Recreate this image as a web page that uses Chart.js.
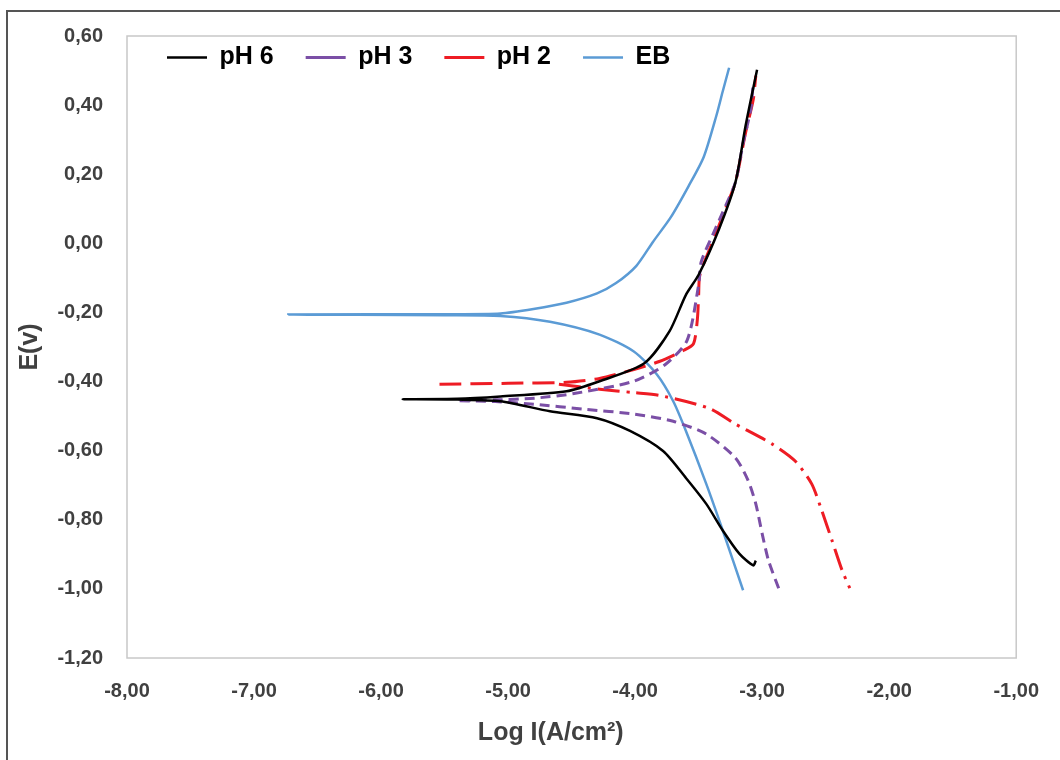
<!DOCTYPE html>
<html>
<head>
<meta charset="utf-8">
<script src="https://cdn.jsdelivr.net/npm/chart.js@4.4.1/dist/chart.umd.min.js"></script>
<style>
  html, body { margin: 0; padding: 0; background: #fff; }
  #wrap { width: 1060px; height: 760px; }
</style>
</head>
<body>
<div id="wrap"><canvas id="myCanvas" width="1060" height="760"></canvas></div>
<script>
// axis ticks
const xTicks = [-8, -7, -6, -5, -4, -3, -2, -1];
const yTicks = [-1.2, -1.0, -0.8, -0.6, -0.4, -0.2, 0.0, 0.2, 0.4, 0.6];

// pH 6 : cathodic end -> corrosion potential -> anodic end
const ph6LogI = [-3.05, -3.07, -3.18, -3.31, -3.44, -3.60, -3.78, -4.04, -4.30, -4.67, -5.06, -5.40, -5.83,
  -5.40, -5.06, -4.54, -4.28, -3.93, -3.73, -3.60, -3.50, -3.34, -3.21, -3.13, -3.04];
const ph6E = [-0.918, -0.932, -0.898, -0.831, -0.754, -0.679, -0.601, -0.543, -0.506, -0.486, -0.457, -0.452, -0.451,
  -0.450, -0.443, -0.428, -0.399, -0.348, -0.255, -0.149, -0.091, 0.041, 0.177, 0.341, 0.502];

// pH 3
const ph3LogI = [-2.87, -2.95, -3.00, -3.05, -3.11, -3.21, -3.44, -3.70, -4.01, -4.40, -4.79, -5.10, -5.40,
  -5.10, -4.79, -4.47, -4.01, -3.76, -3.59, -3.50, -3.48, -3.39, -3.31, -3.21, -3.15, -3.09, -3.07];
const ph3E = [-0.998, -0.918, -0.840, -0.754, -0.687, -0.621, -0.552, -0.515, -0.494, -0.480, -0.466, -0.458, -0.455,
  -0.453, -0.448, -0.434, -0.399, -0.350, -0.280, -0.120, -0.054, 0.024, 0.090, 0.177, 0.290, 0.387, 0.465];

// pH 2, anodic branch (long dashes) and cathodic branch (dash-dot)
const ph2AnLogI = [-5.54, -5.00, -4.54, -4.28, -4.01, -3.81, -3.62, -3.54, -3.51, -3.50, -3.49, -3.39, -3.29, -3.21, -3.13, -3.07, -3.05];
const ph2AnE = [-0.408, -0.405, -0.402, -0.391, -0.365, -0.342, -0.310, -0.290, -0.220, -0.150, -0.091, 0.004, 0.099, 0.177, 0.321, 0.416, 0.485];
const ph2CaLogI = [-4.60, -4.28, -4.01, -3.81, -3.42, -3.21, -2.92, -2.74, -2.61, -2.53, -2.45, -2.37, -2.31];
const ph2CaE = [-0.408, -0.422, -0.432, -0.440, -0.477, -0.523, -0.581, -0.630, -0.696, -0.774, -0.860, -0.947, -0.998];

// EB
const ebLogI = [-3.15, -3.31, -3.44, -3.60, -3.70, -3.83, -4.01, -4.28, -4.67, -5.06, -5.50, -6.73,
  -5.50, -5.06, -4.80, -4.54, -4.30, -4.15, -3.99, -3.86, -3.72, -3.58, -3.46, -3.36, -3.31, -3.26];
const ebE = [-1.004, -0.831, -0.696, -0.543, -0.457, -0.379, -0.313, -0.264, -0.227, -0.210, -0.208, -0.206,
  -0.205, -0.203, -0.190, -0.172, -0.145, -0.115, -0.065, 0.004, 0.075, 0.165, 0.250, 0.370, 0.440, 0.508];

function pts(xs, ys) {
  return xs.map((x, i) => ({ x: x, y: ys[i] }));
}

function fmt(v) {
  if (Math.abs(v) < 1e-9) v = 0;
  return v.toFixed(2).replace('.', ',');
}

const frame = {
  id: 'frame',
  afterInit(chart) {
    // lay the in-plot legend out in one row
    if (chart.legend) chart.legend.isHorizontal = () => true;
  },
  afterLayout(chart) {
    if (chart.legend) {
      chart.legend.left = chart.chartArea.left + 8;
      chart.legend.top = 13;
    }
  },
  beforeDraw(chart) {
    const ctx = chart.ctx;
    ctx.save();
    ctx.fillStyle = '#fff';
    ctx.fillRect(0, 0, chart.width, chart.height);
    ctx.strokeStyle = '#555';
    ctx.lineWidth = 2;
    ctx.strokeRect(7, 11, chart.width + 20, chart.height + 20);
    ctx.restore();
  },
  afterDatasetsDraw(chart) {
    const a = chart.chartArea;
    const ctx = chart.ctx;
    ctx.save();
    ctx.strokeStyle = '#c8c8c8';
    ctx.lineWidth = 1.5;
    ctx.strokeRect(a.left, a.top, a.right - a.left, a.bottom - a.top);
    ctx.restore();
  }
};

const font = 'Arial, "Liberation Sans", sans-serif';

let canvas = document.getElementById('myCanvas');
let ctx = canvas.getContext('2d');
let myChart = new Chart(ctx, {
  type: 'scatter',
  data: {
    datasets: [
      { label: 'pH 6', data: pts(ph6LogI, ph6E), borderColor: '#000000', backgroundColor: '#000000', borderWidth: 2.5 },
      { label: 'pH 3', data: pts(ph3LogI, ph3E), borderColor: '#7b4fa6', backgroundColor: '#7b4fa6', borderWidth: 3, borderDash: [10, 6] },
      { label: 'pH 2', data: pts(ph2AnLogI, ph2AnE), borderColor: '#ee1c24', backgroundColor: '#ee1c24', borderWidth: 3, borderDash: [22, 9] },
      { label: 'pH 2 c', data: pts(ph2CaLogI, ph2CaE), borderColor: '#ee1c24', backgroundColor: '#ee1c24', borderWidth: 3, borderDash: [22, 7, 3, 7] },
      { label: 'EB', data: pts(ebLogI, ebE), borderColor: '#5b9bd5', backgroundColor: '#5b9bd5', borderWidth: 2.5 }
    ]
  },
  options: {
    responsive: false,
    animation: false,
    showLine: true,
    elements: {
      point: { radius: 0, hoverRadius: 0 },
      line: { tension: 0.25, fill: false }
    },
    layout: { padding: { top: 26, right: 38, left: 0, bottom: 0 } },
    plugins: {
      tooltip: { enabled: false },
      legend: {
        position: 'chartArea',
        align: 'start',
        labels: {
          usePointStyle: true,
          pointStyle: 'line',
          pointStyleWidth: 40,
          padding: 32,
          color: '#000',
          font: { family: font, size: 25, weight: 'bold' },
          filter: (item) => item.text !== 'pH 2 c'
        }
      }
    },
    scales: {
      x: {
        type: 'linear',
        min: -8,
        max: -1,
        afterFit(scale) { scale.height = 102; },
        afterBuildTicks(scale) { scale.ticks = xTicks.map(v => ({ value: v })); },
        grid: { display: false, drawTicks: false },
        border: { display: false },
        ticks: {
          padding: 21,
          color: '#404040',
          font: { family: font, size: 20, weight: 'bold' },
          callback: (v) => fmt(v)
        },
        title: {
          display: true,
          text: 'Log I(A/cm²)      ',
          color: '#404040',
          font: { family: font, size: 25, weight: 'bold' },
          padding: { bottom: 12 }
        }
      },
      y: {
        type: 'linear',
        min: -1.2,
        max: 0.6,
        afterFit(scale) { scale.width = 127; },
        afterBuildTicks(scale) { scale.ticks = yTicks.map(v => ({ value: v })); },
        grid: { display: false, drawTicks: false },
        border: { display: false },
        ticks: {
          padding: 24,
          color: '#404040',
          font: { family: font, size: 20, weight: 'bold' },
          callback: (v) => fmt(v)
        },
        title: {
          display: true,
          text: 'E(v)',
          color: '#404040',
          font: { family: font, size: 25, weight: 'bold' },
          padding: { top: 15 }
        }
      }
    }
  },
  plugins: [frame]
});
</script>
</body>
</html>
